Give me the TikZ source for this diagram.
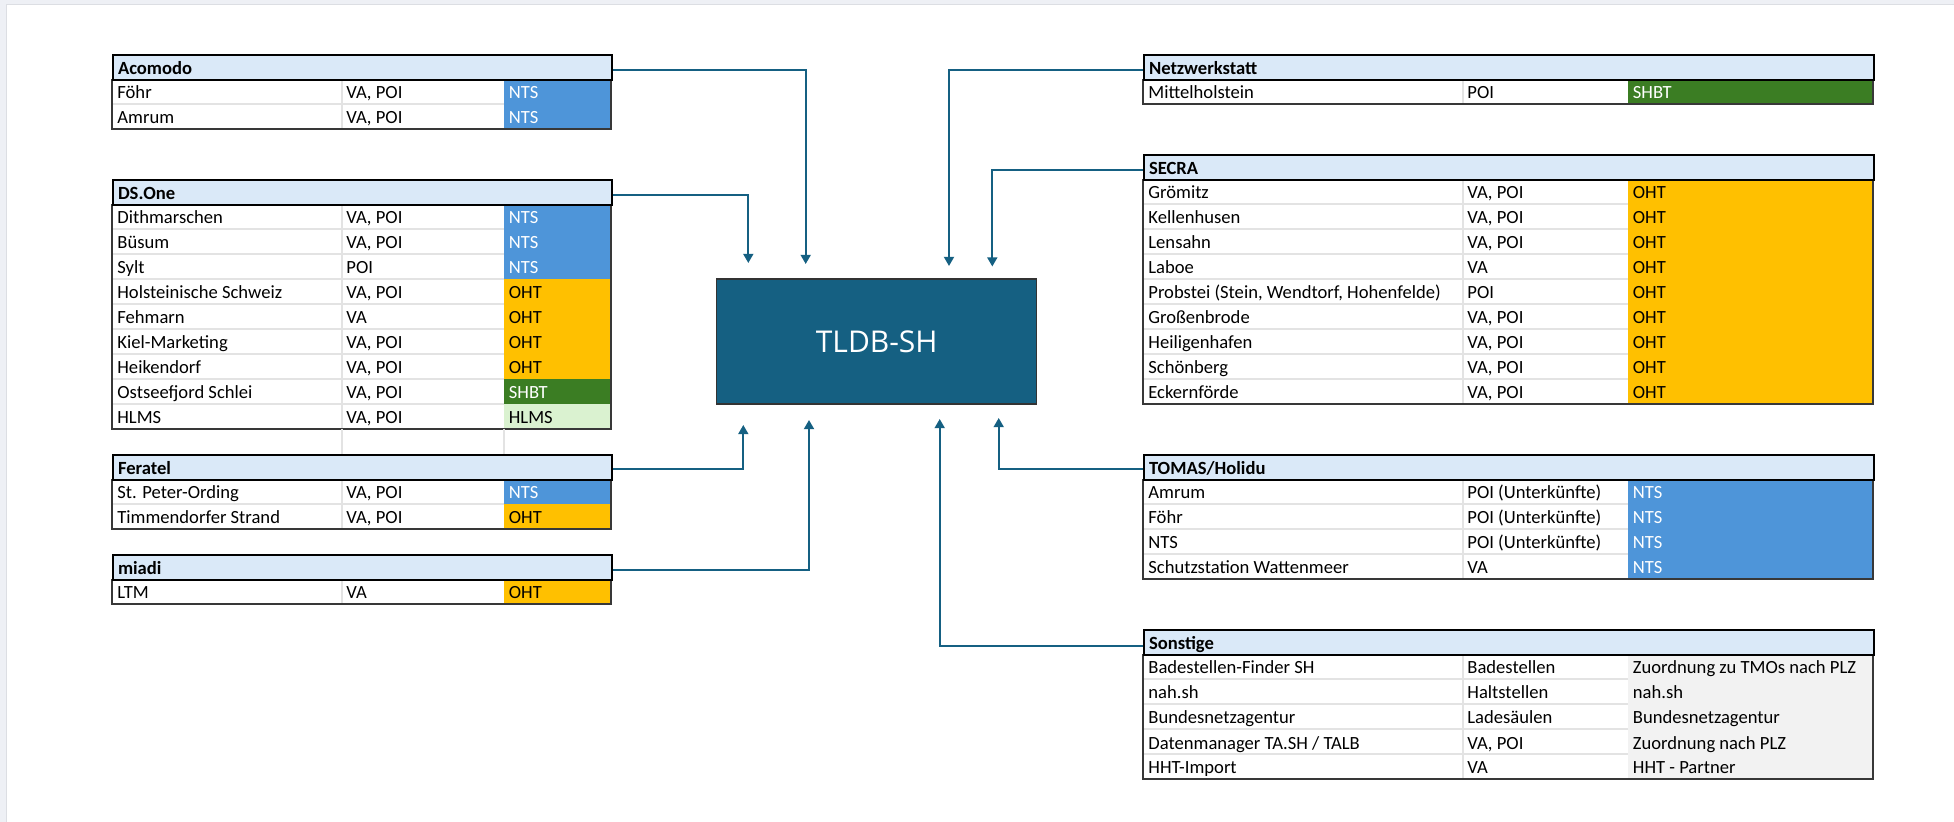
\documentclass[tikz,border=0pt]{standalone}
\usepackage{fontspec}
\setmainfont{Carlito}
\newfontfamily\hubfont{Open Sans}
\usetikzlibrary{arrows.meta}
\definecolor{headblue}{HTML}{DAE9F8}
\definecolor{ntsblue}{HTML}{4E95D9}
\definecolor{ohtgold}{HTML}{FFC000}
\definecolor{shbtgreen}{HTML}{3B7D23}
\definecolor{hlmsgreen}{HTML}{DAF2D0}
\definecolor{othergrey}{HTML}{F2F2F2}
\definecolor{hubblue}{HTML}{156082}
\definecolor{gridgrey}{HTML}{E3E3E3}
\definecolor{pagegrey}{HTML}{EEF0F5}
\definecolor{pageline}{HTML}{DCDEE3}

\tikzset{
 head/.style={draw=black,line width=1pt,fill=headblue,anchor=north west,minimum height=12.5pt,inner xsep=2.5pt,inner ysep=0pt,text height=9pt,text depth=1.5pt,align=left,font=\bfseries\fontsize{9.3}{11}\selectfont},
 lhead/.style={head,text width=244.5pt},
 rhead/.style={head,text width=360pt},
 cell/.style={anchor=base west,inner sep=0pt,font=\fontsize{9.3}{11}\selectfont},
 gridline/.style={draw=gridgrey,line width=0.6pt},
 border/.style={draw=black!78,line width=0.65pt},
 hub/.style={draw=black!80,line width=0.65pt,fill=hubblue,text=white,minimum width=160pt,minimum height=62.5pt,font=\hubfont\fontsize{15}{18}\selectfont},
 link/.style={draw=hubblue,line width=1pt,-{Triangle[width=5pt,length=4.6pt]}}
}

% #1-#4 column edges, #5 top of first row, #6 name, #7 rows
\newcommand\srcrows[7]{%
 \foreach \cA/\cB/\cC/\cF/\cT [count=\i] in {#7}{%
  \pgfmathsetmacro\yt{#5+25*(\i-1)}\pgfmathsetmacro\yb{#5+25*\i}
  \fill[\cF] (#3,\yt) rectangle (#4,\yb);
  \draw[gridline] (#1,\yb) -- (#3,\yb) (#2,\yt) -- (#2,\yb);
  \node[cell] (#6-\i-a) at (#1+5,\yb-5) {\cA};
  \node[cell] (#6-\i-b) at (#2+4,\yb-5) {\cB};
  \node[cell,text=\cT] (#6-\i-c) at (#3+4.5,\yb-5) {\cC};
 }}

\begin{document}
\begin{tikzpicture}[x=0.5pt,y=-0.5pt]
\useasboundingbox (0,0) rectangle (1954,822);
\fill[pagegrey] (0,0) rectangle (1954,822);
\fill[white] (6.7,4.3) rectangle (1954,822);
\draw[pageline,line width=0.6pt] (6.7,822) |- (1954,4.3);

% left side
\srcrows{112}{342}{504}{611}{79}{aco}{Föhr/{VA, POI}/NTS/ntsblue/white,Amrum/{VA, POI}/NTS/ntsblue/white}
\draw[border] (112,79) |- (611,129) -- (611,79);
\node[lhead] (acomodo) at (112,54) {Acomodo};

\srcrows{112}{342}{504}{611}{204}{dso}{Dithmarschen/{VA, POI}/NTS/ntsblue/white,Büsum/{VA, POI}/NTS/ntsblue/white,Sylt/POI/NTS/ntsblue/white,
 Holsteinische Schweiz/{VA, POI}/OHT/ohtgold/black,Fehmarn/VA/OHT/ohtgold/black,Kiel-Marketing/{VA, POI}/OHT/ohtgold/black,Heikendorf/{VA, POI}/OHT/ohtgold/black,
 Ostseefjord Schlei/{VA, POI}/SHBT/shbtgreen/white,HLMS/{VA, POI}/HLMS/hlmsgreen/black}
\draw[border] (112,204) |- (611,429) -- (611,204);
\node[lhead] (dsone) at (112,179) {DS.One};
\draw[gridline] (342,429) -- (342,454) (504,429) -- (504,454);

\srcrows{112}{342}{504}{611}{479}{fer}{St. Peter-Ording/{VA, POI}/NTS/ntsblue/white,Timmendorfer Strand/{VA, POI}/OHT/ohtgold/black}
\draw[border] (112,479) |- (611,529) -- (611,479);
\node[lhead] (feratel) at (112,454) {Feratel};

\srcrows{112}{342}{504}{611}{579}{mia}{LTM/VA/OHT/ohtgold/black}
\draw[border] (112,579) |- (611,604) -- (611,579);
\node[lhead] (miadi) at (112,554) {miadi};

% right side
\srcrows{1143}{1463}{1628}{1873}{79}{nws}{Mittelholstein/POI/SHBT/shbtgreen/white}
\draw[border] (1143,79) |- (1873,104) -- (1873,79);
\node[rhead] (netz) at (1143,54) {Netzwerkstatt};

\srcrows{1143}{1463}{1628}{1873}{179}{sec}{Grömitz/{VA, POI}/OHT/ohtgold/black,Kellenhusen/{VA, POI}/OHT/ohtgold/black,Lensahn/{VA, POI}/OHT/ohtgold/black,
 Laboe/VA/OHT/ohtgold/black,{Probstei (Stein, Wendtorf, Hohenfelde)}/POI/OHT/ohtgold/black,Großenbrode/{VA, POI}/OHT/ohtgold/black,
 Heiligenhafen/{VA, POI}/OHT/ohtgold/black,Schönberg/{VA, POI}/OHT/ohtgold/black,Eckernförde/{VA, POI}/OHT/ohtgold/black}
\draw[border] (1143,179) |- (1873,404) -- (1873,179);
\node[rhead] (secra) at (1143,154) {SECRA};

\srcrows{1143}{1463}{1628}{1873}{479}{tom}{Amrum/POI (Unterkünfte)/NTS/ntsblue/white,Föhr/POI (Unterkünfte)/NTS/ntsblue/white,
 NTS/POI (Unterkünfte)/NTS/ntsblue/white,Schutzstation Wattenmeer/VA/NTS/ntsblue/white}
\draw[border] (1143,479) |- (1873,579) -- (1873,479);
\node[rhead] (tomas) at (1143,454) {TOMAS/Holidu};

\srcrows{1143}{1463}{1628}{1873}{654}{son}{Badestellen-Finder SH/Badestellen/Zuordnung zu TMOs nach PLZ/othergrey/black,nah.sh/Haltstellen/nah.sh/othergrey/black,
 Bundesnetzagentur/Ladesäulen/Bundesnetzagentur/othergrey/black,{Datenmanager TA.SH / TALB}/{VA, POI}/Zuordnung nach PLZ/othergrey/black,
 HHT-Import/VA/HHT - Partner/othergrey/black}
\draw[border] (1143,654) |- (1873,779) -- (1873,654);
\node[rhead] (sonstige) at (1143,629) {Sonstige};

% hub
\node[hub] (tldb) at (876.7,341.4) {TLDB-SH};
\coordinate (acoIn) at (805.7,264); \coordinate (dsoIn) at (748.3,263);
\coordinate (nwsIn) at (949,266); \coordinate (secIn) at (992.3,266.5);
\coordinate (ferIn) at (743.3,425); \coordinate (miaIn) at (809,420);
\coordinate (tomIn) at (998.7,418); \coordinate (sonIn) at (939.7,419);
\draw[link] ([yshift=-1.25pt]acomodo.east) -| (acoIn);
\draw[link] ([yshift=-1.25pt]dsone.east) -| (dsoIn);
\draw[link] ([yshift=-1pt]feratel.east) -| (ferIn);
\draw[link] ([yshift=-1.25pt]miadi.east) -| (miaIn);
\draw[link] ([yshift=-1.5pt]netz.west) -| (nwsIn);
\draw[link] ([yshift=-1.5pt]secra.west) -| (secIn);
\draw[link] ([yshift=-0.6pt]tomas.west) -| (tomIn);
\draw[link] ([yshift=-1.75pt]sonstige.west) -| (sonIn);
\end{tikzpicture}
\end{document}
